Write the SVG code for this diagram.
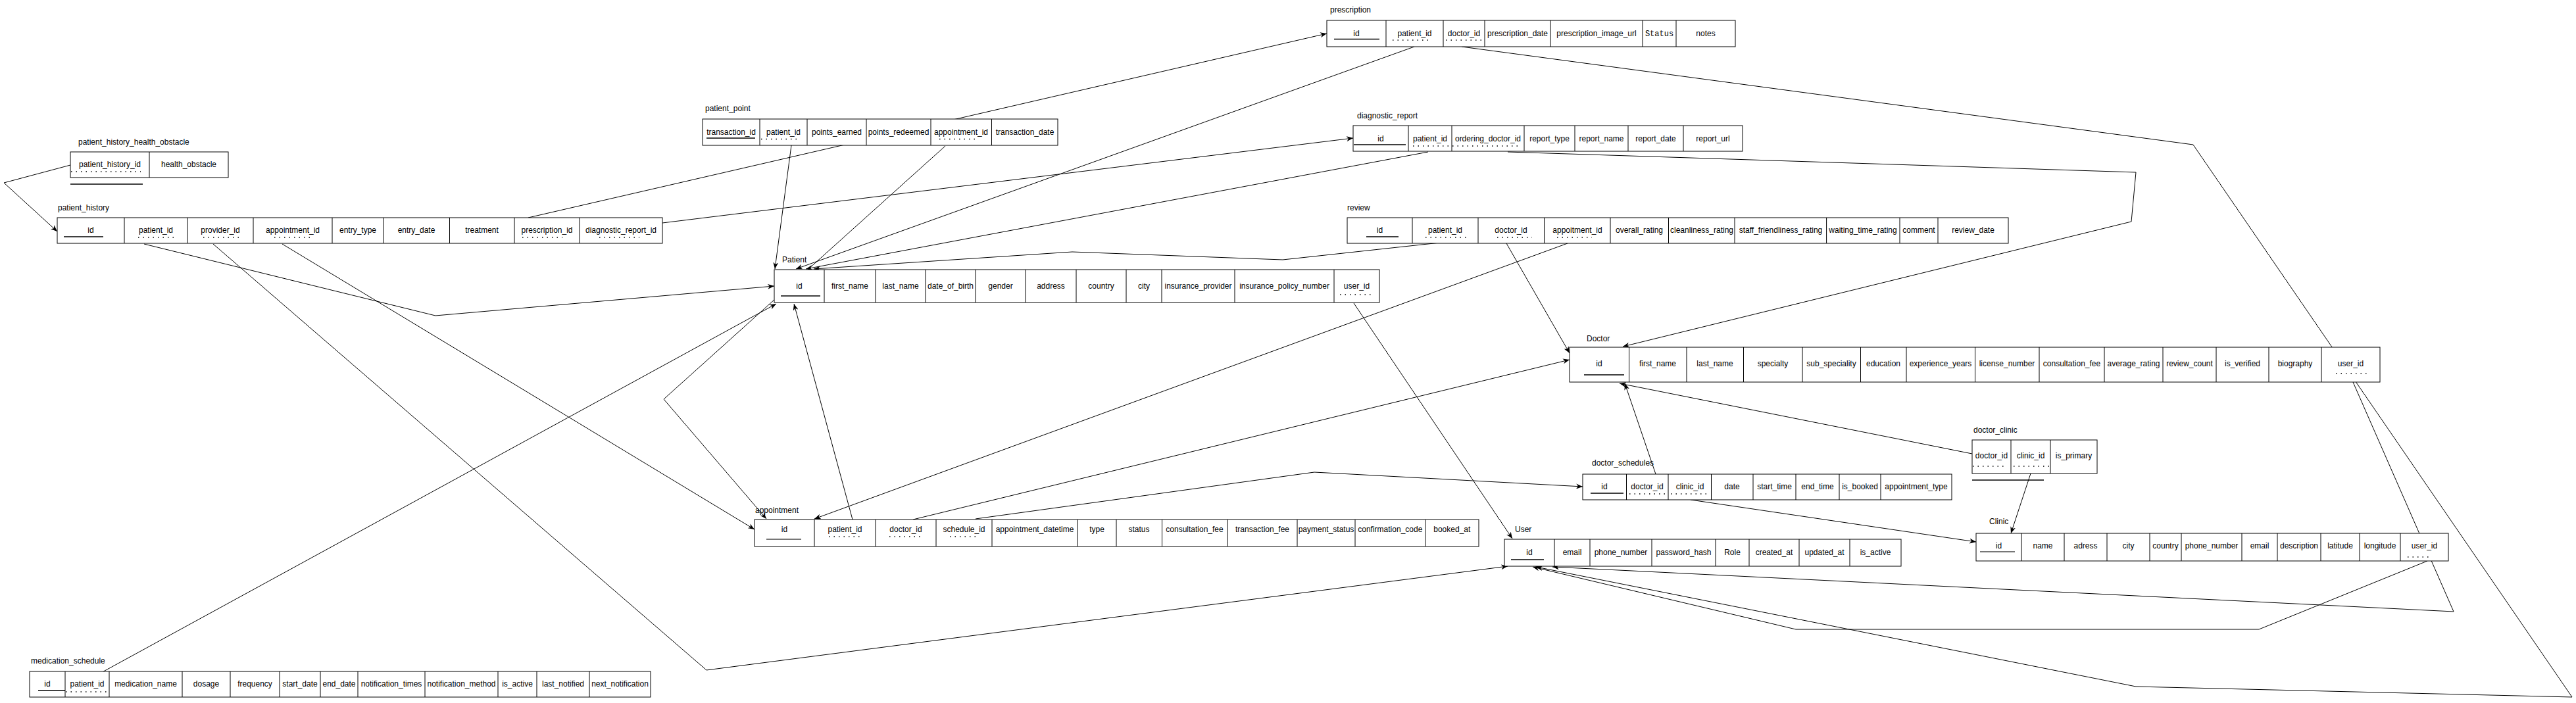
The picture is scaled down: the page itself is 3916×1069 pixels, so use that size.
<svg xmlns="http://www.w3.org/2000/svg" width="3916" height="1069" viewBox="0 0 3916 1069">
<style>
.b{fill:#fff;stroke:#000;stroke-width:1}
.c{stroke:#000;stroke-width:1}
.t{font-family:"Liberation Sans",Arial,Helvetica,sans-serif;font-size:12px;fill:#000;text-anchor:middle}
.m{font-family:"Liberation Mono","Courier New",monospace;font-size:12px;fill:#000;text-anchor:middle}
.l{font-family:"Liberation Sans",Arial,Helvetica,sans-serif;font-size:12px;fill:#000}
.pk{stroke:#000;stroke-width:1.5}
.pg{stroke:#777;stroke-width:2}
.fk{stroke:#000;stroke-width:1.5;stroke-dasharray:1.5 6}
.e{fill:none;stroke:#000;stroke-width:1}
</style>
<defs>
<marker id="a" viewBox="0 0 10 8" refX="10" refY="4" markerWidth="10" markerHeight="8" markerUnits="userSpaceOnUse" orient="auto"><path d="M0,0 L10,4 L0,8 L3,4 z" fill="#000"/></marker>
</defs>
<rect width="3916" height="1069" fill="#fff"/>

<g id="connectors">
<path class="e" marker-end="url(#a)" d="M107,251 L6,278 L87,352"/>
<path class="e" marker-end="url(#a)" d="M219,371 L662,480 L1177,435"/>
<path class="e" marker-end="url(#a)" d="M324,371 L1074,1019 L2292,861"/>
<path class="e" marker-end="url(#a)" d="M429,371 L1147,805"/>
<path class="e" marker-end="url(#a)" d="M803,331 L2017,51"/>
<path class="e" marker-end="url(#a)" d="M1007,339 L2057,210"/>
<path class="e" marker-end="url(#a)" d="M1203,221 L1178,409"/>
<path class="e" marker-end="url(#a)" d="M1437,222 L1009,607 L1165,789"/>
<path class="e" marker-end="url(#a)" d="M2150,71 L1210,409"/>
<path class="e" marker-end="url(#a)" d="M2222,71 L3334,220 L3910,1060 L3247,1044 L2335,862"/>
<path class="e" marker-end="url(#a)" d="M2171,231 L1225,409"/>
<path class="e" marker-end="url(#a)" d="M2292,231 L3247,262 L3240,337 L2467,527"/>
<path class="e" marker-end="url(#a)" d="M2189,369 L1950,395 L1630,383 L1237,409"/>
<path class="e" marker-end="url(#a)" d="M2290,370 L2386,537"/>
<path class="e" marker-end="url(#a)" d="M2383,370 L1238,789"/>
<path class="e" marker-end="url(#a)" d="M2058,461 L2299,819"/>
<path class="e" marker-end="url(#a)" d="M3577,581 L3730,930 L2360,862"/>
<path class="e" marker-end="url(#a)" d="M2998,690 L2462,583"/>
<path class="e" marker-end="url(#a)" d="M3087,720 L3057,811"/>
<path class="e" marker-end="url(#a)" d="M2517,721 L2470,583"/>
<path class="e" marker-end="url(#a)" d="M2570,760 L3004,824"/>
<path class="e" marker-end="url(#a)" d="M1296,790 L1207,462"/>
<path class="e" marker-end="url(#a)" d="M1388,790 L2386,547"/>
<path class="e" marker-end="url(#a)" d="M1483,789 L1998,718 L2406,740"/>
<path class="e" marker-end="url(#a)" d="M3690,853 L3434,957 L2730,957 L2330,862"/>
<path class="e" marker-end="url(#a)" d="M150,1025 L1180,462"/>
</g>

<g id="prescription">
<text class="l" x="2022" y="19">prescription</text>
<rect class="b" x="2017" y="31" width="621" height="40"/>
<path class="c" d="M2107,31V71M2194,31V71M2257,31V71M2357,31V71M2497,31V71M2548,31V71"/>
<text class="t" x="2062" y="55">id</text>
<text class="t" x="2150.5" y="55">patient_id</text>
<text class="t" x="2225.5" y="55">doctor_id</text>
<text class="t" x="2307" y="55">prescription_date</text>
<text class="t" x="2427" y="55">prescription_image_url</text>
<text class="m" x="2522.5" y="55">Status</text>
<text class="t" x="2593" y="55">notes</text>
<path class="pk" d="M2028,59.5H2097"/>
<path class="fk" d="M2117,61H2176M2198,61H2256"/>
</g>

<g id="patient_point">
<text class="l" x="1072" y="169">patient_point</text>
<rect class="b" x="1068" y="181" width="540" height="40"/>
<path class="c" d="M1155,181V221M1227,181V221M1317,181V221M1415,181V221M1507.5,181V221"/>
<text class="t" x="1111.5" y="205">transaction_id</text>
<text class="t" x="1191" y="205">patient_id</text>
<text class="t" x="1272" y="205">points_earned</text>
<text class="t" x="1366" y="205">points_redeemed</text>
<text class="t" x="1461" y="205">appointment_id</text>
<text class="t" x="1558" y="205">transaction_date</text>
<path class="pk" d="M1074,210H1148"/>
<path class="fk" d="M1157,211.5H1216M1428,211.5H1486"/>
</g>

<g id="diagnostic_report">
<text class="l" x="2063" y="180">diagnostic_report</text>
<rect class="b" x="2057" y="191" width="592" height="39"/>
<path class="c" d="M2141,191V230M2207,191V230M2317,191V230M2394,191V230M2475,191V230M2559,191V230"/>
<text class="t" x="2099" y="215">id</text>
<text class="t" x="2174" y="215">patient_id</text>
<text class="t" x="2262" y="215">ordering_doctor_id</text>
<text class="t" x="2355.5" y="215">report_type</text>
<text class="t" x="2434.5" y="215">report_name</text>
<text class="t" x="2517" y="215">report_date</text>
<text class="t" x="2604" y="215">report_url</text>
<path class="pk" d="M2058,220H2137"/>
<path class="fk" d="M2148,222H2307"/>
</g>

<g id="patient_history_health_obstacle">
<text class="l" x="119" y="220">patient_history_health_obstacle</text>
<rect class="b" x="107" y="231" width="240" height="39"/>
<path class="c" d="M227,231V270"/>
<text class="t" x="167" y="254">patient_history_id</text>
<text class="t" x="287" y="254">health_obstacle</text>
<path class="fk" d="M108,261H214"/>
<path class="pk" d="M107,280H217"/>
</g>

<g id="patient_history">
<text class="l" x="88" y="320">patient_history</text>
<rect class="b" x="87" y="331" width="920" height="39"/>
<path class="c" d="M189,331V370M285,331V370M385,331V370M505,331V370M583,331V370M683.5,331V370M782,331V370M881,331V370"/>
<text class="t" x="138" y="354">id</text>
<text class="t" x="237" y="354">patient_id</text>
<text class="t" x="335" y="354">provider_id</text>
<text class="t" x="445" y="354">appointment_id</text>
<text class="t" x="544" y="354">entry_type</text>
<text class="t" x="633" y="354">entry_date</text>
<text class="t" x="732.5" y="354">treatment</text>
<text class="t" x="831.5" y="354">prescription_id</text>
<text class="t" x="944" y="354">diagnostic_report_id</text>
<path class="pk" d="M97,360H157"/>
<path class="fk" d="M210,361H268M309,361H368M417,361H476M794,361H855M911,361H972"/>
</g>

<g id="Patient">
<text class="l" x="1189" y="399">Patient</text>
<rect class="b" x="1177" y="410" width="920" height="50"/>
<path class="c" d="M1253,410V460M1331,410V460M1407,410V460M1483,410V460M1559,410V460M1636,410V460M1712,410V460M1766,410V460M1877,410V460M2028,410V460"/>
<text class="t" x="1215" y="439">id</text>
<text class="t" x="1292" y="439">first_name</text>
<text class="t" x="1369" y="439">last_name</text>
<text class="t" x="1445" y="439">date_of_birth</text>
<text class="t" x="1521" y="439">gender</text>
<text class="t" x="1597.5" y="439">address</text>
<text class="t" x="1674" y="439">country</text>
<text class="t" x="1739" y="439">city</text>
<text class="t" x="1821.5" y="439">insurance_provider</text>
<text class="t" x="1952.5" y="439">insurance_policy_number</text>
<text class="t" x="2062.5" y="439">user_id</text>
<path class="pk" d="M1187,450H1247"/>
<path class="fk" d="M2037,448H2089"/>
</g>

<g id="review">
<text class="l" x="2048" y="320">review</text>
<rect class="b" x="2048" y="331" width="1005" height="39"/>
<path class="c" d="M2147,331V370M2247,331V370M2347.5,331V370M2448,331V370M2536.5,331V370M2637,331V370M2776.6,331V370M2888,331V370M2946,331V370"/>
<text class="t" x="2097.5" y="354">id</text>
<text class="t" x="2197" y="354">patient_id</text>
<text class="t" x="2297" y="354">doctor_id</text>
<text class="t" x="2398" y="354">appoitment_id</text>
<text class="t" x="2492" y="354">overall_rating</text>
<text class="t" x="2587" y="354">cleanliness_rating</text>
<text class="t" x="2707" y="354">staff_friendliness_rating</text>
<text class="t" x="2832" y="354">waiting_time_rating</text>
<text class="t" x="2917" y="354">comment</text>
<text class="t" x="2999.5" y="354">review_date</text>
<path class="pk" d="M2077,360H2126"/>
<path class="fk" d="M2167,361H2229M2276,361H2329M2367,361H2420"/>
</g>

<g id="Doctor">
<text class="l" x="2412" y="519">Doctor</text>
<rect class="b" x="2386" y="528" width="1232" height="53"/>
<path class="c" d="M2476.5,528V581M2564,528V581M2650.5,528V581M2740,528V581M2828.5,528V581M2898,528V581M3002.5,528V581M3100,528V581M3199,528V581M3288,528V581M3369,528V581M3449,528V581M3529,528V581"/>
<text class="t" x="2431" y="557">id</text>
<text class="t" x="2520" y="557">first_name</text>
<text class="t" x="2607" y="557">last_name</text>
<text class="t" x="2695" y="557">specialty</text>
<text class="t" x="2784" y="557">sub_speciality</text>
<text class="t" x="2863" y="557">education</text>
<text class="t" x="2950" y="557">experience_years</text>
<text class="t" x="3051" y="557">license_number</text>
<text class="t" x="3149.5" y="557">consultation_fee</text>
<text class="t" x="3243.5" y="557">average_rating</text>
<text class="t" x="3328.5" y="557">review_count</text>
<text class="t" x="3409" y="557">is_verified</text>
<text class="t" x="3489" y="557">biography</text>
<text class="t" x="3573.5" y="557">user_id</text>
<path class="pk" d="M2408,570H2469"/>
<path class="fk" d="M3551,568H3603"/>
</g>

<g id="doctor_clinic">
<text class="l" x="3000" y="658">doctor_clinic</text>
<rect class="b" x="2998" y="669" width="190" height="51"/>
<path class="c" d="M3057,669V720M3117,669V720"/>
<text class="t" x="3027.5" y="697">doctor_id</text>
<text class="t" x="3087" y="697">clinic_id</text>
<text class="t" x="3152.5" y="697">is_primary</text>
<path class="fk" d="M2999,709H3051M3061,709H3115"/>
<path class="pk" d="M2998,730H3107"/>
</g>

<g id="doctor_schedules">
<text class="l" x="2420" y="708">doctor_schedules</text>
<rect class="b" x="2406" y="721" width="561" height="39"/>
<path class="c" d="M2472.5,721V760M2536,721V760M2601.5,721V760M2665,721V760M2730,721V760M2796,721V760M2859,721V760"/>
<text class="t" x="2439" y="744">id</text>
<text class="t" x="2504" y="744">doctor_id</text>
<text class="t" x="2569" y="744">clinic_id</text>
<text class="t" x="2633" y="744">date</text>
<text class="t" x="2697.5" y="744">start_time</text>
<text class="t" x="2763" y="744">end_time</text>
<text class="t" x="2827.5" y="744">is_booked</text>
<text class="t" x="2913" y="744">appointment_type</text>
<path class="pk" d="M2418,750H2468"/>
<path class="fk" d="M2477,751H2531M2540,751H2600"/>
</g>

<g id="appointment">
<text class="l" x="1148" y="780">appointment</text>
<rect class="b" x="1147" y="790" width="1101" height="41"/>
<path class="c" d="M1238,790V831M1331,790V831M1423,790V831M1508,790V831M1638,790V831M1697,790V831M1766.5,790V831M1866,790V831M1972,790V831M2060,790V831M2166.6,790V831"/>
<text class="t" x="1192.5" y="809">id</text>
<text class="t" x="1284.5" y="809">patient_id</text>
<text class="t" x="1377" y="809">doctor_id</text>
<text class="t" x="1465.5" y="809">schedule_id</text>
<text class="t" x="1573" y="809">appointment_datetime</text>
<text class="t" x="1667.5" y="809">type</text>
<text class="t" x="1731.5" y="809">status</text>
<text class="t" x="1816" y="809">consultation_fee</text>
<text class="t" x="1919" y="809">transaction_fee</text>
<text class="t" x="2016" y="809">payment_status</text>
<text class="t" x="2113.3" y="809">confirmation_code</text>
<text class="t" x="2207.3" y="809">booked_at</text>
<path class="pg" d="M1165,820H1218"/>
<path class="fk" d="M1260,816H1309M1352,816H1401M1444,816H1488"/>
</g>

<g id="User">
<text class="l" x="2303" y="809">User</text>
<rect class="b" x="2287" y="820" width="603" height="41"/>
<path class="c" d="M2363,820V861M2417,820V861M2511,820V861M2608,820V861M2659,820V861M2735,820V861M2812,820V861"/>
<text class="t" x="2325" y="844">id</text>
<text class="t" x="2390" y="844">email</text>
<text class="t" x="2464" y="844">phone_number</text>
<text class="t" x="2559.5" y="844">password_hash</text>
<text class="t" x="2633.5" y="844">Role</text>
<text class="t" x="2697" y="844">created_at</text>
<text class="t" x="2773.5" y="844">updated_at</text>
<text class="t" x="2851" y="844">is_active</text>
<path class="pk" d="M2297,851H2347"/>
</g>

<g id="Clinic">
<text class="l" x="3024" y="797">Clinic</text>
<rect class="b" x="3004" y="811" width="718" height="42"/>
<path class="c" d="M3073,811V853M3138,811V853M3203,811V853M3268,811V853M3316,811V853M3408,811V853M3462,811V853M3528,811V853M3587,811V853M3649,811V853"/>
<text class="t" x="3038.5" y="834">id</text>
<text class="t" x="3105.5" y="834">name</text>
<text class="t" x="3170.5" y="834">adress</text>
<text class="t" x="3235.5" y="834">city</text>
<text class="t" x="3292" y="834">country</text>
<text class="t" x="3362" y="834">phone_number</text>
<text class="t" x="3435" y="834">email</text>
<text class="t" x="3495" y="834">description</text>
<text class="t" x="3557.5" y="834">latitude</text>
<text class="t" x="3618" y="834">longitude</text>
<text class="t" x="3685.5" y="834">user_id</text>
<path class="pg" d="M3010,839H3063"/>
<path class="fk" d="M3660,847H3696"/>
</g>

<g id="medication_schedule">
<text class="l" x="47" y="1009">medication_schedule</text>
<rect class="b" x="45" y="1021" width="944" height="39"/>
<path class="c" d="M99,1021V1060M166,1021V1060M277,1021V1060M350,1021V1060M425,1021V1060M487,1021V1060M544,1021V1060M646,1021V1060M757,1021V1060M816,1021V1060M896,1021V1060"/>
<text class="t" x="72" y="1044">id</text>
<text class="t" x="132.5" y="1044">patient_id</text>
<text class="t" x="221.5" y="1044">medication_name</text>
<text class="t" x="313.5" y="1044">dosage</text>
<text class="t" x="387.5" y="1044">frequency</text>
<text class="t" x="456" y="1044">start_date</text>
<text class="t" x="515.5" y="1044">end_date</text>
<text class="t" x="595" y="1044">notification_times</text>
<text class="t" x="701.5" y="1044">notification_method</text>
<text class="t" x="786.5" y="1044">is_active</text>
<text class="t" x="856" y="1044">last_notified</text>
<text class="t" x="942.5" y="1044">next_notification</text>
<path class="pk" d="M58,1050H99"/>
<path class="fk" d="M100,1052H166"/>
</g>
</svg>
